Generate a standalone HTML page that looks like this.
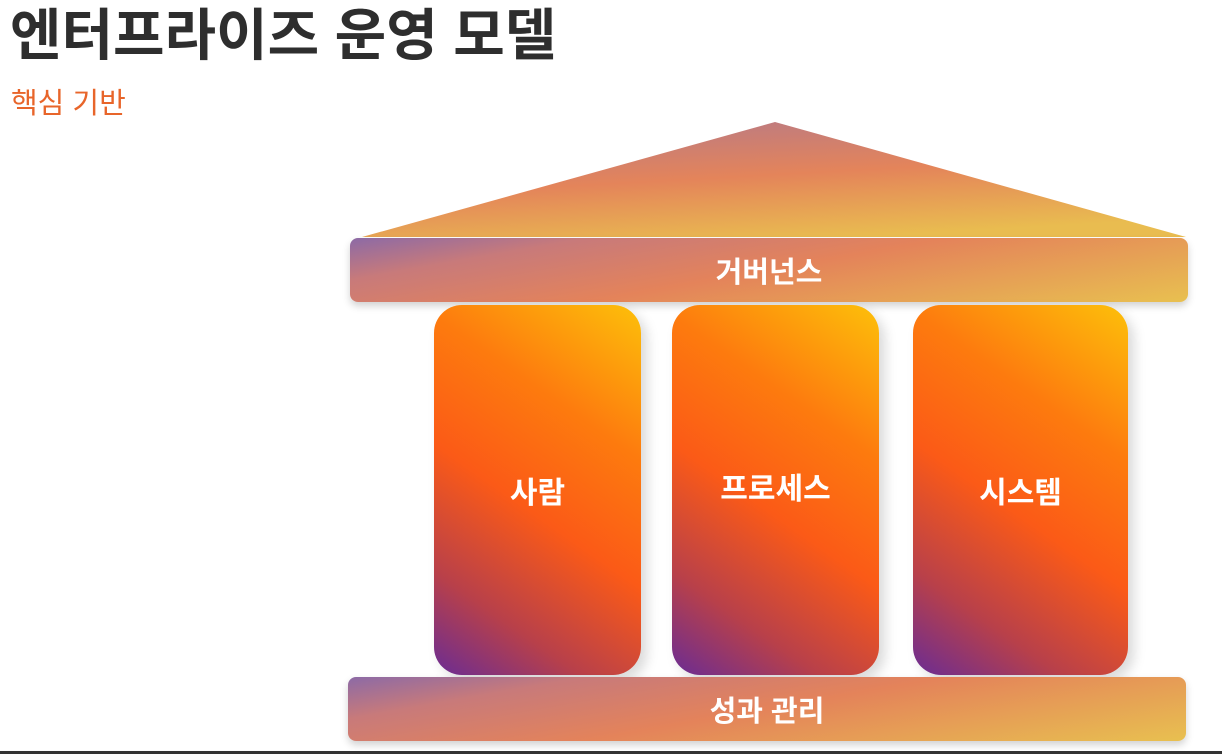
<!DOCTYPE html>
<html><head><meta charset="utf-8"><style>
html,body{margin:0;padding:0;}
body{width:1222px;height:754px;position:relative;overflow:hidden;background:#fff;font-family:"Liberation Sans","Noto Sans CJK KR",sans-serif;}
.t{position:absolute;left:10px;top:-9px;font-size:56px;font-weight:700;color:#2e2e2e;letter-spacing:0px;white-space:nowrap;}
.s{position:absolute;left:11px;top:80px;font-size:29px;color:#e8652a;white-space:nowrap;}
.bar{position:absolute;border-radius:8px;color:#fff;font-weight:700;font-size:29px;display:flex;align-items:center;justify-content:center;box-shadow:0 4px 8px rgba(0,0,0,.18);}
.p{position:absolute;top:305px;height:370px;border-radius:28px;color:#fff;font-weight:700;font-size:30px;display:flex;align-items:center;justify-content:center;
background:linear-gradient(215deg,#fdc00a 0%,#fd7b0e 30%,#fb5a17 55%,#b8404a 80%,#6a2c94 100%);box-shadow:6px 6px 12px rgba(0,0,0,.15);}
</style></head><body>
<div class="t">엔터프라이즈 운영 모델</div>
<div class="s">핵심 기반</div>
<svg style="position:absolute;left:0;top:0" width="1222" height="754">
<defs><linearGradient id="r" x1="0.2" y1="0" x2="0.6" y2="1">
<stop offset="0" stop-color="#b87a86"/><stop offset="0.5" stop-color="#e4845a"/><stop offset="1" stop-color="#e9bc50"/></linearGradient></defs>
<polygon points="362,237 775,122 1186,237" fill="url(#r)"/>
</svg>
<div class="bar" style="left:350px;top:238px;width:838px;height:64px;background:linear-gradient(170deg,#8c6aa6 0%,#c87a7a 20%,#e4835a 50%,#e8c050 100%);">거버넌스</div>
<div class="p" style="left:434px;width:207px;">사람</div>
<div class="p" style="left:672px;width:207px;padding-bottom:8px;box-sizing:border-box;">프로세스</div>
<div class="p" style="left:913px;width:215px;">시스템</div>
<div class="bar" style="left:348px;top:677px;width:838px;height:64px;background:linear-gradient(170deg,#8c6aa6 0%,#c87a7a 20%,#e4835a 50%,#e8c050 100%);">성과 관리</div>
<div style="position:absolute;left:0;top:751px;width:1222px;height:3px;background:#333;"></div>
</body></html>
